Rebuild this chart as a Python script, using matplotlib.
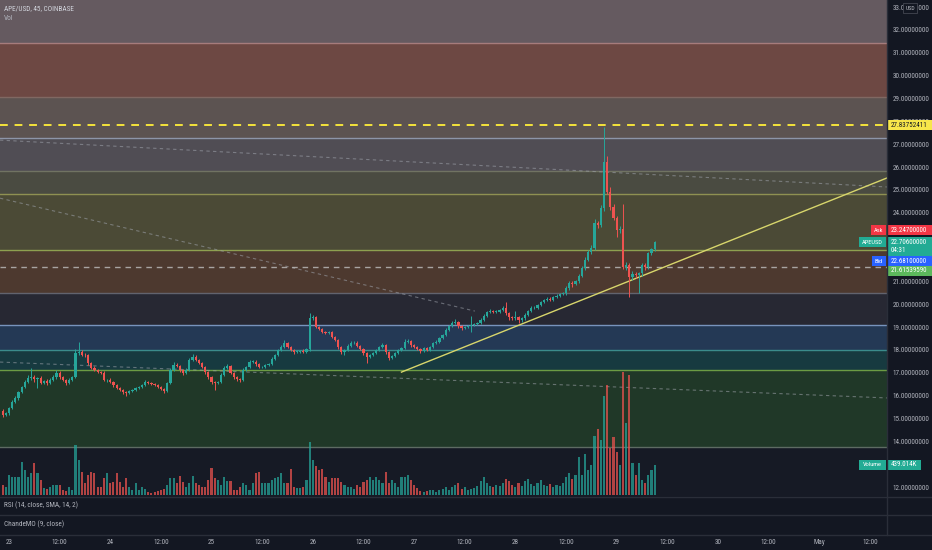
import numpy as np
import matplotlib
matplotlib.use('Agg')
import matplotlib.pyplot as plt
from matplotlib.patches import Rectangle
from matplotlib.lines import Line2D
from matplotlib import font_manager as fm

# ---------------- data ----------------
title = "APE/USD, 45, COINBASE"
start_hour = -1.5          # first candle, hours after Apr 23 00:00
interval_h = 0.75          # 45 minute candles
first_open = 15.35

closes = [
15.15,15.24,15.46,15.72,15.90,16.16,16.38,16.60,16.77,16.81,
16.73,16.77,16.55,16.64,16.55,16.70,16.81,16.99,16.81,16.68,
16.55,16.70,16.81,17.87,17.91,17.78,17.76,17.43,17.21,17.12,
17.03,16.99,16.68,16.70,16.60,16.46,16.33,16.25,16.16,16.12,
16.20,16.25,16.33,16.38,16.46,16.60,16.55,16.51,16.46,16.38,
16.29,16.20,16.55,17.12,17.34,17.30,17.12,16.99,17.12,17.56,
17.69,17.56,17.43,17.25,17.03,16.81,16.60,16.55,16.60,16.90,
17.21,17.30,16.99,16.81,16.73,16.68,17.12,17.25,17.47,17.49,
17.39,17.25,17.27,17.34,17.39,17.60,17.78,18.00,18.13,18.30,
18.13,18.00,17.91,17.93,17.96,17.91,18.04,19.40,19.42,19.00,
18.91,18.78,18.74,18.78,18.56,18.43,18.13,17.91,18.00,18.17,
18.30,18.32,18.17,18.04,17.87,17.69,17.78,17.87,18.00,18.13,
18.21,17.91,17.65,17.74,17.87,18.00,18.08,18.35,18.39,18.21,
18.13,18.04,17.96,18.08,18.00,18.13,18.30,18.35,18.52,18.65,
18.87,19.05,19.18,19.22,19.05,18.96,19.00,19.05,19.09,19.13,
19.18,19.31,19.48,19.66,19.70,19.66,19.68,19.75,19.83,19.61,
19.44,19.39,19.44,19.31,19.39,19.53,19.70,19.83,19.85,19.96,
20.10,20.18,20.25,20.20,20.31,20.38,20.44,20.47,20.71,20.93,
20.90,21.00,21.23,21.58,21.93,22.28,22.46,23.55,23.46,24.20,
26.22,24.91,24.25,23.77,23.25,23.30,21.63,21.70,21.19,21.32,
21.28,21.35,21.71,21.63,22.24,22.40,22.706]

upper_wick = [
0.08,0.06,0.05,0.07,0.10,0.06,0.05,0.08,0.12,0.39,
0.10,0.06,0.08,0.05,0.09,0.06,0.10,0.12,0.07,0.05,
0.06,0.08,0.05,0.15,0.44,0.10,0.08,0.06,0.05,0.07,
0.05,0.06,0.08,0.05,0.06,0.05,0.04,0.06,0.05,0.04,
0.05,0.06,0.04,0.05,0.06,0.08,0.05,0.04,0.05,0.04,
0.05,0.04,0.06,0.10,0.12,0.08,0.06,0.05,0.08,0.10,
0.15,0.08,0.06,0.05,0.06,0.05,0.04,0.06,0.05,0.08,
0.10,0.08,0.06,0.05,0.04,0.05,0.08,0.06,0.10,0.06,
0.05,0.06,0.04,0.05,0.06,0.08,0.06,0.05,0.10,0.12,
0.06,0.05,0.04,0.05,0.04,0.06,0.05,0.20,0.12,0.08,
0.06,0.05,0.04,0.06,0.05,0.06,0.04,0.05,0.06,0.08,
0.10,0.08,0.05,0.04,0.05,0.06,0.05,0.04,0.05,0.06,
0.08,0.06,0.05,0.04,0.05,0.06,0.05,0.12,0.08,0.06,
0.05,0.04,0.05,0.06,0.04,0.05,0.06,0.08,0.05,0.06,
0.08,0.06,0.10,0.12,0.06,0.05,0.04,0.06,0.40,0.05,
0.06,0.08,0.10,0.06,0.08,0.05,0.06,0.05,0.08,0.25,
0.06,0.05,0.25,0.06,0.05,0.08,0.06,0.10,0.06,0.05,
0.06,0.05,0.06,0.08,0.05,0.06,0.05,0.06,0.08,0.10,
0.08,0.06,0.10,0.08,0.12,0.10,0.15,0.20,0.10,0.15,
1.53,0.28,0.20,0.15,0.10,0.12,1.10,0.15,0.10,0.12,
0.10,0.08,0.10,0.08,0.06,0.08,0.05]

lower_wick = [
0.10,0.06,0.08,0.05,0.06,0.08,0.05,0.06,0.05,0.10,
0.12,0.40,0.06,0.05,0.08,0.06,0.05,0.06,0.08,0.06,
0.10,0.05,0.06,0.05,0.08,0.06,0.05,0.08,0.06,0.05,
0.06,0.05,0.06,0.08,0.05,0.06,0.05,0.06,0.08,0.12,
0.06,0.05,0.04,0.06,0.05,0.04,0.06,0.05,0.04,0.05,
0.06,0.08,0.06,0.05,0.06,0.05,0.08,0.10,0.06,0.05,
0.06,0.05,0.06,0.05,0.08,0.06,0.08,0.30,0.06,0.05,
0.06,0.05,0.06,0.08,0.10,0.08,0.06,0.05,0.06,0.05,
0.08,0.06,0.05,0.06,0.05,0.06,0.05,0.06,0.05,0.06,
0.05,0.06,0.08,0.05,0.06,0.05,0.06,0.10,0.08,0.06,
0.05,0.06,0.05,0.06,0.05,0.06,0.08,0.10,0.12,0.06,
0.05,0.06,0.05,0.06,0.08,0.26,0.06,0.05,0.06,0.05,
0.06,0.08,0.10,0.06,0.05,0.06,0.05,0.06,0.05,0.06,
0.05,0.06,0.08,0.06,0.05,0.06,0.05,0.06,0.05,0.06,
0.05,0.06,0.05,0.06,0.08,0.10,0.06,0.05,0.25,0.06,
0.05,0.06,0.05,0.06,0.05,0.06,0.05,0.06,0.05,0.08,
0.15,0.10,0.06,0.12,0.08,0.06,0.05,0.06,0.05,0.06,
0.05,0.06,0.05,0.08,0.06,0.05,0.06,0.05,0.06,0.08,
0.15,0.06,0.08,0.06,0.10,0.06,0.08,0.10,0.12,0.10,
0.12,0.10,0.12,0.10,0.30,0.12,0.10,0.15,0.89,0.12,
0.15,0.78,0.10,0.12,0.08,0.10,0.06]

volumes_k = [
146,117,292,263,263,263,482,365,263,321,
467,321,219,102,88,117,146,146,146,73,
58,117,73,730,511,336,175,292,336,321,
117,117,248,321,175,190,321,190,117,248,
117,73,175,73,117,88,44,29,44,58,
73,88,146,248,248,175,277,190,117,175,
277,175,146,117,117,219,394,248,219,146,
263,204,204,73,73,117,175,146,73,175,
321,336,175,175,175,219,248,263,321,175,
175,380,117,102,102,117,219,774,511,423,
365,380,263,190,248,248,248,190,146,117,
117,88,146,117,190,219,263,219,263,219,
175,336,175,219,175,117,263,263,292,219,
146,102,58,44,58,73,73,44,73,88,
117,73,117,146,175,88,117,73,88,102,
131,204,263,175,131,117,146,131,175,234,
204,146,117,175,131,204,234,161,131,175,
219,146,131,161,117,146,131,175,263,321,
234,292,555,292,599,365,439,861,964,803,
1445,1606,686,847,628,439,1796,1051,1752,467,
292,467,219,175,292,365,439.014]

# price levels of the coloured zones (low, high)
zone_levels = [(31.43, 34.0), (29.06, 31.43), (27.27, 29.06), (25.83, 27.27),
               (24.82, 25.83), (22.37, 24.82), (20.49, 22.37), (19.09, 20.49),
               (18.00, 19.09), (17.12, 18.00), (13.75, 17.12)]
zone_colors = ['#655a60', '#6d4843', '#5c5351', '#504d54', '#4a4b41', '#4b4a36',
               '#4d392f', '#272833', '#243955', '#173a40', '#203828']
edge_levels = [31.43, 29.06, 27.27, 25.83, 24.82, 22.37, 20.49, 19.09, 18.00, 17.12, 13.75]
edge_colors = ['#a67c7c', '#806862', '#8d95a8', '#707362', '#8f9152', '#8ea050',
               '#62636e', '#7894bd', '#3b8c8c', '#6c9c44', '#5d6b63']

alert_level = 27.83752411
mark_level = 21.61539590
trend_line = [(93.0, 17.03), (208.0, 25.52)]
dash_lines = [[(-2.13, 27.18), (208.06, 25.13)],
              [(-2.13, 24.64), (110.4, 19.70)],
              [(-2.13, 17.47), (208.06, 15.90)]]
ask_price, last_price, bid_price = 23.247, 22.706, 22.681
countdown = "04:31"

tick_hours = list(range(0, 205, 12))
tick_labels = ['23', '12:00', '24', '12:00', '25', '12:00', '26', '12:00', '27',
               '12:00', '28', '12:00', '29', '12:00', '30', '12:00', 'May', '12:00']
price_ticks = list(range(12, 34))
hidden_ticks = [13, 22, 23]   # covered by the price tags on the scale

# ---------------- style ----------------
BG = '#131722'
PANE = '#161a25'
TXT = '#b2b5be'
UP, DOWN = '#26a69a', '#ef5350'
SEP = '#2a2e39'

avail = {f.name for f in fm.fontManager.ttflist}
NARROW = 'DejaVu Sans'
for cand in ['Roboto Condensed', 'Liberation Sans Narrow', 'Open Sans Condensed']:
    if cand in avail:
        NARROW = cand
        break

W, H = 932, 550
fig = plt.figure(figsize=(W / 100, H / 100), dpi=100, facecolor=BG)

def px_axes(x0, y0, x1, y1):
    return fig.add_axes([x0 / W, 1 - y1 / H, (x1 - x0) / W, (y1 - y0) / H])

PR = 887
MB = 496
XLIM = (-2.13, 208.06)
YLIM = (11.61, 33.31)

ax = px_axes(0, 0, PR, MB)
ax.set_facecolor(PANE)
ax.set_xlim(*XLIM)
ax.set_ylim(*YLIM)
for s in ax.spines.values():
    s.set_visible(False)
ax.set_xticks([])

# zones
for (lo, hi), c in zip(zone_levels, zone_colors):
    ax.axhspan(lo, hi, color=c, lw=0, zorder=0)
for p, c in zip(edge_levels, edge_colors):
    ax.axhline(p, color=c, lw=1.0, zorder=1)

# dashed guides
for seg in dash_lines:
    xs, ys = zip(*seg)
    ax.plot(xs, ys, color='#a0a4ad', lw=0.8, ls=(0, (3, 3)), alpha=0.55, zorder=2)
ax.axhline(alert_level, color='#f5e33b', lw=1.4, ls=(0, (4, 3.5)), zorder=2)
ax.axhline(mark_level, color='#c9c9c9', lw=1.0, ls=(0, (4, 3.5)), alpha=0.75, zorder=2)
xs, ys = zip(*trend_line)
ax.plot(xs, ys, color='#d8d66c', lw=1.0, zorder=2)

# candles
n = len(closes)
times = start_hour + interval_h * np.arange(n)
closes_a = np.array(closes)
opens_a = np.concatenate([[first_open], closes_a[:-1]])
tops = np.maximum(opens_a, closes_a)
bots = np.minimum(opens_a, closes_a)
highs = tops + np.array(upper_wick)
lows = bots - np.array(lower_wick)
colors = [UP if c >= o else DOWN for o, c in zip(opens_a, closes_a)]
ax.vlines(times, lows, highs, colors=colors, lw=0.7, zorder=3)
ax.bar(times, np.maximum(tops - bots, 0.025), bottom=bots, width=0.52,
       color=colors, lw=0, zorder=4)

# price scale
ax.yaxis.tick_right()
ax.set_yticks(price_ticks)
ax.set_yticklabels(["" if v in hidden_ticks else f"{v:.8f}" for v in price_ticks])
ax.tick_params(axis='y', length=0, pad=3.8, labelsize=5.1, labelcolor=TXT)
for lb in ax.get_yticklabels():
    lb.set_family(NARROW)
    lb.set_fontstretch('condensed')

# volume overlay
vax = px_axes(0, 370, PR, 495)
vax.patch.set_alpha(0)
vax.set_xlim(*XLIM)
vax.set_ylim(0, 1829)
vax.axis('off')
vcols = [(0.149, 0.651, 0.604, 0.72) if c == UP else (0.937, 0.325, 0.314, 0.72) for c in colors]
vax.bar(times, volumes_k, width=0.5, color=vcols, lw=0)

# lower panes
for y0, y1 in [(497, 514), (515, 534)]:
    p = px_axes(0, y0, PR, y1)
    p.set_facecolor(BG)
    p.set_xticks([]); p.set_yticks([])
    for s in p.spines.values():
        s.set_visible(False)

# separators
for yy in [496.5, 514.5, 534.5]:
    fig.add_artist(Line2D([0, 1], [1 - yy / H] * 2, color=SEP, lw=1, transform=fig.transFigure))
fig.add_artist(Line2D([PR / W] * 2, [1 - 535 / H, 1], color=SEP, lw=1, transform=fig.transFigure))

def ftext(x, y, s, **kw):
    kw.setdefault('color', TXT)
    kw.setdefault('fontsize', 5)
    kw.setdefault('va', 'center')
    kw.setdefault('family', NARROW)
    kw.setdefault('fontstretch', 'condensed')
    return fig.text(x / W, 1 - y / H, s, **kw)

def frect(x0, y0, x1, y1, color, **kw):
    r = Rectangle((x0 / W, 1 - y1 / H), (x1 - x0) / W, (y1 - y0) / H,
                  transform=fig.transFigure, color=color, lw=0, **kw)
    fig.add_artist(r)
    return r

# time axis labels
for h_, lab in zip(tick_hours, tick_labels):
    xp = ax.transData.transform((h_, 0))[0]
    ftext(xp, 542, lab, ha='center', fontsize=5.1)

# legends / titles
ftext(4, 9, title, color='#d1d4dc', fontsize=5.2)
ftext(4, 19, "Vol", color='#b2b5be', fontsize=5.2)
ftext(4, 505, "RSI (14, close, SMA, 14, 2)", fontsize=5.2)
ftext(4, 524, "ChandeMO (9, close)", fontsize=5.2)

# USD box
r = Rectangle((903 / W, 1 - 13 / H), 14 / W, 10 / H, transform=fig.transFigure,
              facecolor=BG, edgecolor='#434651', lw=0.6)
fig.add_artist(r)
ftext(910, 8.2, "USD", ha='center', fontsize=4.2)

def ypix(p):
    return H - ax.transData.transform((0, p))[1]

# price tags
def price_tag(yc, text, bg, fg='white', h=10, x1=932):
    frect(PR + 0.5, yc - h / 2, x1, yc + h / 2, bg)
    ftext(PR + 4, yc, text, color=fg, fontsize=5.0, ha='left')

price_tag(ypix(alert_level), f"{alert_level:.8f}", '#f7e64a', fg='#131722')

y_ask = ypix(ask_price)
price_tag(y_ask, f"{ask_price:.8f}", '#f23645')
frect(871, y_ask - 5, 886, y_ask + 5, '#f23645')
ftext(878.5, y_ask, "Ask", color='white', fontsize=4.6, ha='center')

y_last = max(ypix(last_price), y_ask + 10)
frect(PR + 0.5, y_last - 5, 932, y_last + 14, '#22ab94')
ftext(PR + 4, y_last, f"{last_price:.8f}", color='white', fontsize=5.0, ha='left')
ftext(PR + 4, y_last + 8.5, countdown, color='white', fontsize=5.0, ha='left')
frect(859, y_last - 5, 886, y_last + 5, '#22ab94')
ftext(872.5, y_last, "APEUSD", color='white', fontsize=4.6, ha='center')

y_bid = max(ypix(bid_price), y_last + 19)
price_tag(y_bid, f"{bid_price:.8f}", '#2962ff')
frect(872, y_bid - 5, 886, y_bid + 5, '#2962ff')
ftext(879, y_bid, "Bid", color='white', fontsize=4.6, ha='center')

y_mark = max(ypix(mark_level), y_bid + 9.5)
price_tag(y_mark, f"{mark_level:.8f}", '#5cb85c')

# volume tag
y_vol = H - vax.transData.transform((0, volumes_k[-1]))[1]
frect(PR + 0.5, y_vol - 5, 921, y_vol + 5, '#22ab94')
ftext(PR + 4, y_vol, f"{volumes_k[-1]:.3f}K", color='white', fontsize=5.0, ha='left')
frect(859, y_vol - 5, 886, y_vol + 5, '#22ab94')
ftext(872.5, y_vol, "Volume", color='white', fontsize=4.6, ha='center')

fig.savefig('out.png', dpi=100, facecolor=BG)
